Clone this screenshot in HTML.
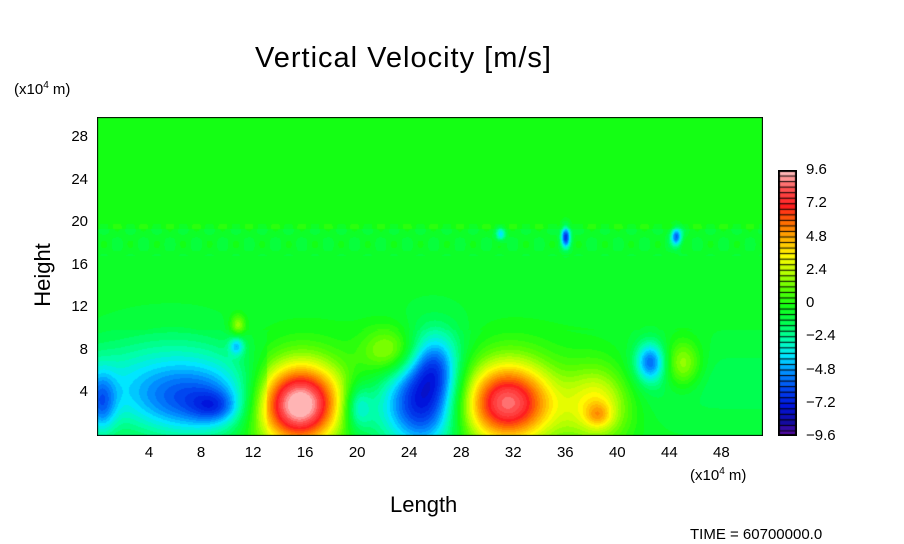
<!DOCTYPE html>
<html><head><meta charset="utf-8"><style>
body{margin:0;background:#fff;width:904px;height:544px;overflow:hidden;position:relative;font-family:"Liberation Sans",sans-serif;color:#000}
.t{position:absolute;white-space:nowrap}
.yt{position:absolute;font-size:15px;text-align:right;width:40px;left:48px}
.xt{position:absolute;font-size:15px;top:444px;width:40px;text-align:center}
.ct{position:absolute;font-size:15px;left:806px}
</style></head><body>
<div class="t" style="left:255px;top:42px;font-size:29px;letter-spacing:1px">Vertical Velocity [m/s]</div>
<div class="t" style="left:14px;top:80px;font-size:15px">(x10<sup style="font-size:10px">4</sup> m)</div>
<div class="t" style="left:8px;top:262px;font-size:22px;transform:rotate(-90deg);transform-origin:center;width:70px;text-align:center">Height</div>
<div class="t" style="left:390px;top:492px;font-size:22px">Length</div>
<div class="t" style="left:690px;top:466px;font-size:15px">(x10<sup style="font-size:10px">4</sup> m)</div>
<div class="t" style="left:690px;top:526px;font-size:15px">TIME = 60700000.0</div>
<canvas id="c" width="666" height="319" style="position:absolute;left:97px;top:117px"></canvas>
<canvas id="cb" width="19" height="266" style="position:absolute;left:778px;top:170px"></canvas>
<div id="ticks"></div>
<script>
const xTicks=[4,8,12,16,20,24,28,32,36,40,44,48];
const yTicks=[4,8,12,16,20,24,28];
const cbLabels=["9.6","7.2","4.8","2.4","0","−2.4","−4.8","−7.2","−9.6"];
const cbValues=[9.6,7.2,4.8,2.4,0,-2.4,-4.8,-7.2,-9.6];
// blobs: x (1e4 m), z (1e4 m), amplitude, sigma x, sigma z
const blobX=[15.5,25,26,31.5,7.5,9,0.3,20,38.5,38.5,42.5,45,22.5,10.8,10.7,36,44.5,31,6,16,32,20,26];
const blobZ=[3,3,6.5,3.2,3,2.8,3,2.8,3.2,2,7,6.8,8,10.5,8.5,18.8,18.8,19,7,4,4,2,9];
const blobA=[10,-6.5,-3,8,-4,-2,-3.5,-2.5,4,2,-4.5,3,3,2.5,-3,-6,-5,-3,-1.2,2,2,-1.5,-1];
const blobSX=[2.3,2.0,1.2,2.4,3.6,1.2,0.8,0.7,1.8,0.7,0.8,1.0,1.5,0.4,0.4,0.25,0.3,0.25,4,4,4.5,2,2];
const blobSZ=[2.6,3,2,2.6,2.2,1,2,1.5,2.6,0.8,1.3,1.6,1.6,0.7,0.6,0.7,0.6,0.4,2.5,3.5,3.5,2,2];
const X0=0,X1=51.2,Z0=0,Z1=30,W=666,H=319;
const sx=x=>(x-X0)/(X1-X0)*W, sz=z=>H-(z-Z0)/(Z1-Z0)*H;
const stops=[[-9.6,[110,10,170]],[-8.4,[20,10,160]],[-7.2,[0,20,220]],[-6,[0,70,240]],[-4.8,[0,140,255]],[-3.6,[0,230,255]],[-2.4,[0,255,170]],[-1.2,[0,255,80]],[0,[20,255,20]],[1.2,[90,255,0]],[2.4,[180,255,0]],[3.6,[255,250,0]],[4.8,[255,180,0]],[6,[255,110,0]],[7.2,[255,30,30]],[8.4,[255,80,80]],[9.6,[255,180,180]]];
function col(v){v=Math.round(v/0.4)*0.4;if(v<=stops[0][0])return stops[0][1];for(let i=1;i<stops.length;i++){if(v<=stops[i][0]){const a=stops[i-1],b=stops[i],t=(v-a[0])/(b[0]-a[0]);return a[1].map((c,k)=>Math.round(c+(b[1][k]-c)*t));}}return stops[stops.length-1][1];}
function field(x,z){let v=0;
 if(z<19.5)v-=0.5; if(z<10)v-=1.6*Math.exp(-Math.pow((z-5)/3.5,2))*(x<13?1:0.5);
 if(z>17&&z<20)v-=0.4*Math.sin(x*3.1)*Math.sin(z*2);
 for(let i=0;i<blobX.length;i++){const dx=(x-blobX[i])/blobSX[i],dz=(z-blobZ[i])/blobSZ[i];v+=blobA[i]*Math.exp(-(dx*dx+dz*dz)/2);}return v;}
const c=document.getElementById('c').getContext('2d');const img=c.createImageData(W,H);
for(let j=0;j<H;j++)for(let i=0;i<W;i++){const x=X0+i/W*(X1-X0),z=Z0+(H-j)/H*(Z1-Z0);const cl=col(field(x,z));const p=(j*W+i)*4;img.data[p]=cl[0];img.data[p+1]=cl[1];img.data[p+2]=cl[2];img.data[p+3]=255;}
c.putImageData(img,0,0);c.strokeStyle='#000';c.lineWidth=1;c.strokeRect(0.5,0.5,W-1,H-1);
const cb=document.getElementById('cb').getContext('2d');const n=48;
for(let k=0;k<n;k++){const v=9.6-k*0.4;const cl=col(v);cb.fillStyle='rgb('+cl+')';cb.fillRect(0,k*266/n,19,266/n+1);cb.fillStyle='#000';cb.fillRect(0,k*266/n,19,1);}
cb.strokeStyle='#000';cb.lineWidth=2;cb.strokeRect(1,1,17,264);
const T=document.getElementById('ticks');
xTicks.forEach(v=>{const d=document.createElement('div');d.className='xt';d.style.left=(97+sx(v)-20)+'px';d.textContent=v;

T.appendChild(d);});
yTicks.forEach(v=>{const d=document.createElement('div');d.className='yt';d.style.top=(117+sz(v)-10)+'px';d.textContent=v;

T.appendChild(d);});
cbLabels.forEach((l,k)=>{const d=document.createElement('div');d.className='ct';d.style.top=(170+(9.6-cbValues[k])/19.2*266-9)+'px';d.textContent=l;

T.appendChild(d);});
</script>
</body></html>
